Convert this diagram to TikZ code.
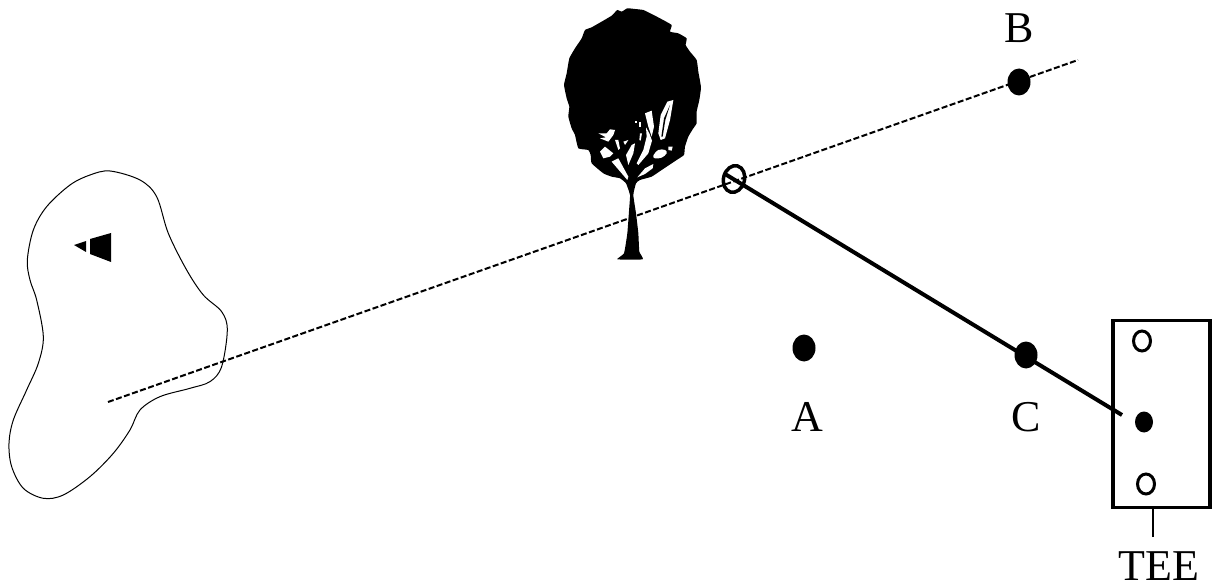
\documentclass[tikz,border=0pt]{standalone}
\usepackage{fontspec}
\setmainfont{Liberation Serif}
\usetikzlibrary{shapes.geometric}
\tikzset{
  ball/.style={draw=none,fill=black,ellipse,minimum width=23pt,minimum height=27pt,inner sep=0pt},
  hole/.style={draw=black,line width=3pt,fill=white,ellipse,minimum width=17pt,minimum height=20pt,inner sep=0pt},
  lab/.style={font=\fontsize{44pt}{44pt}\selectfont,inner sep=0pt,anchor=base},
  teebox/.style={draw=black,line width=3.5pt,rectangle,inner sep=0pt,minimum width=97pt,minimum height=187pt},
  flightline/.style={line width=2pt,dash pattern=on 6pt off 2.5pt},
  shot/.style={line width=4pt},
  greenline/.style={line width=1pt,line join=round},
  treeblack/.style={fill=black,draw=none},
  treewhite/.style={fill=white,draw=none}
}
\begin{document}
\begin{tikzpicture}[x=1pt,y=-1pt]
\useasboundingbox (0,0) rectangle (1217,585);
% green outline
\begin{scope}[x=0.3333pt,y=-0.3333pt,yshift=-160pt]
\draw[greenline] plot[smooth cycle,tension=0.55] coordinates {(330,33)(420,60)(470,110)(505,220)(560,330)(610,405)(665,455)(682,510)(665,620)(630,665)(570,685)(480,710)(420,750)(390,810)(340,880)(270,950)(190,1005)(130,1015)(70,985)(35,920)(27,850)(40,780)(80,690)(115,610)(130,530)(110,420)(90,360)(82,300)(100,210)(140,140)(210,75)(270,45)};
\end{scope}
% flag markers
\fill (90,239) -- (111,233) -- (111,262) -- (90,254) -- cycle;
\fill (74,245) -- (86,241) -- (86,252) -- cycle;
% flight line
\coordinate (fa) at (108,402);
\coordinate (fb) at (1078,60);
\draw[flightline] (fa) -- (fb);
% tree
\begin{scope}[xshift=540pt,x=0.3333pt,y=-0.3333pt]
\fill[treeblack] plot[smooth cycle,tension=0.25] coordinates {(232,30)(245,35)(262,25)(285,27)(310,30)(335,42)(360,55)(395,75)(390,95)(415,100)(440,115)(437,135)(450,155)(470,180)(475,215)(483,262)(478,300)(470,335)(470,370)(460,385)(445,410)(435,440)(432,465)(410,480)(395,490)(365,510)(335,530)(300,540)(288,550)(280,585)(288,640)(295,700)(298,755)(308,778)(232,778)(252,760)(262,700)(268,620)(270,585)(258,550)(240,535)(215,530)(190,520)(155,490)(152,465)(145,450)(115,445)(105,405)(95,385)(85,350)(88,320)(80,295)(72,255)(80,220)(88,175)(105,145)(125,115)(135,90)(155,82)(190,62)(215,47)};
\end{scope}
\begin{scope}[xshift=590pt,yshift=-90pt,x=0.3333pt,y=-0.3333pt]
\fill[treewhite] (250,30)--(232,35)--(212,75)--(205,130)--(212,150)--(225,145)--(240,90)--(245,60)--cycle;
\fill[treeblack] (240,45)--(222,85)--(214,140)--(218,140)--(226,90)--cycle;
\fill[treewhite] (165,70)--(185,62)--(192,110)--(185,140)--(175,110)--cycle;
\fill[treewhite] (168,112)--(178,130)--(186,152)--(175,190)--(145,225)--(140,220)--(160,180)--(170,140)--cycle;
\fill[treewhite] plot[smooth cycle,tension=0.6] coordinates {(190,197)(205,180)(225,180)(230,190)(215,203)(195,205)};
\fill[treewhite] (235,170)--(248,170)--(245,182)--(235,180)--cycle;
\fill[treewhite] (142,262)--(165,235)--(190,222)--(188,235)--(165,252)--cycle;
\fill[treewhite] (108,195)--(125,165)--(135,160)--(130,190)--(115,225)--cycle;
\fill[treewhite] (30,185)--(45,170)--(70,190)--(60,200)--(40,205)--cycle;
\fill[treewhite] (65,215)--(85,205)--(115,260)--(112,270)--cycle;
\fill[treewhite] (25,130)--(50,130)--(60,118)--(75,120)--(70,135)--(55,155)--(30,145)--(48,142)--cycle;
\fill[treewhite] (75,150)--(85,180)--(90,175)--(85,150)--cycle;
\fill[treewhite] (100,155)--(115,150)--(105,165)--cycle;
\fill[treewhite] (135,92)--(140,92)--(140,100)--(135,100)--cycle;
\fill[treewhite] (147,95)--(152,95)--(152,110)--(147,110)--cycle;
\fill[treewhite] (150,130)--(156,130)--(152,152)--(148,150)--cycle;
\end{scope}
% balls
\node[ball] (B) at (1019,82) {};
\node[ball] (A) at (804,348) {};
\node[ball] (C) at (1026,355) {};
% tee box
\node[teebox] (tee) at (1161.5,414) {};
\node[hole] (t1) at (1142,341) {};
\node[ball,minimum width=18pt,minimum height=21pt] (t2) at (1144,422) {};
\node[hole] (t3) at (1146,484) {};
% target
\coordinate (tgt) at (725,174);
\coordinate (shotend) at (1122,415);
\draw[shot] (tgt) -- (shotend);
\node[draw=black,line width=3.5pt,ellipse,minimum width=21pt,minimum height=27pt,inner sep=0pt,rotate=-15] (mark) at (734,179) {};
% labels
\node[lab] (lB) at (1019,43) {B};
\node[lab] (lA) at (807,431) {A};
\node[lab] (lC) at (1026,431) {C};
\node[lab] (lT) at (1159,580) {TEE};
\coordinate (tick) at (1153,537);
\draw[line width=2.5pt] (tick) -- (tick |- tee.south);
\end{tikzpicture}
\end{document}
